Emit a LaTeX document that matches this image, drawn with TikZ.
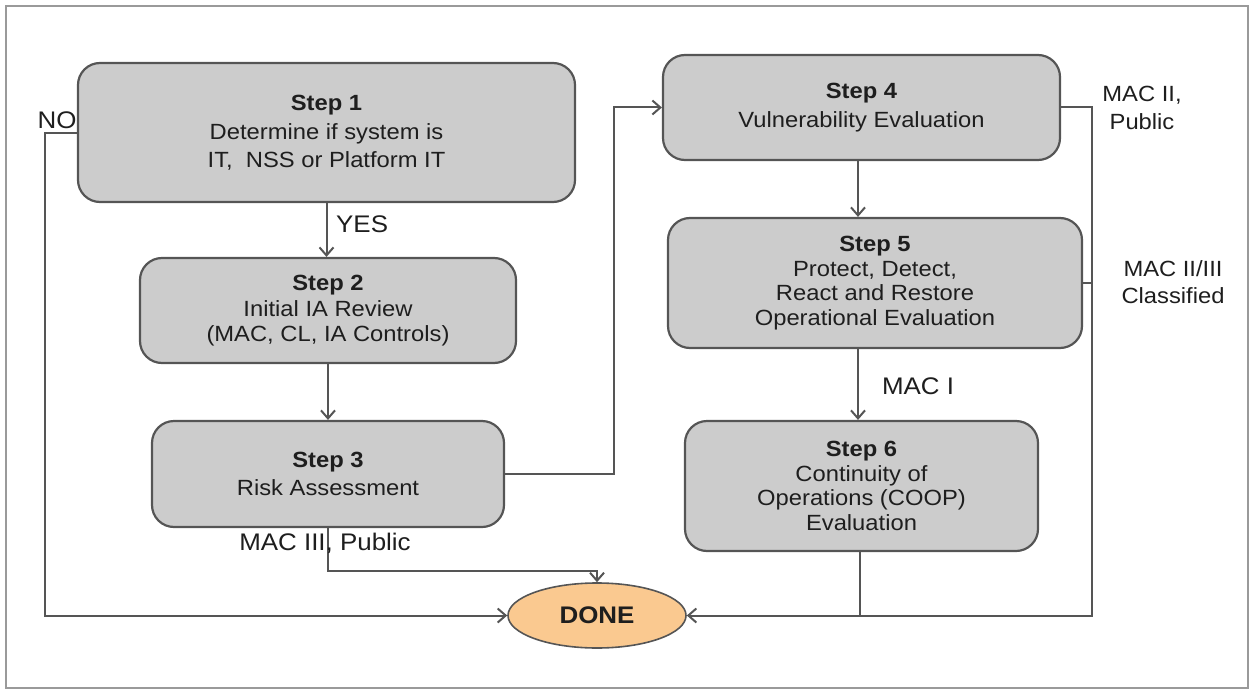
\documentclass[tikz,border=0pt]{standalone}
\usepackage{fontspec}
\setmainfont[FakeStretch=1.08]{Liberation Sans}
\usetikzlibrary{arrows.meta,shapes.geometric}
\definecolor{boxfill}{HTML}{CCCCCC}
\definecolor{boxline}{HTML}{555555}
\definecolor{txt}{HTML}{1E1E1E}
\definecolor{donefill}{HTML}{FAC990}
\definecolor{framec}{HTML}{9A9A9A}
\tikzset{
  stepbox/.style={draw=boxline, line width=2.2pt, fill=boxfill, rounded corners=22pt,
    align=center, text=txt, inner sep=0pt, font=\fontsize{22}{24.5}\selectfont},
  lbl/.style={text=txt, align=center, inner sep=0pt, font=\fontsize{24}{28}\selectfont},
  conn/.style={draw=boxline, line width=2pt},
  arr/.style={conn, -{Straight Barb[length=8pt,width=14pt,line width=2pt]}},
}
\begin{document}
\begin{tikzpicture}[x=1pt,y=-1pt]
\useasboundingbox (0,0) rectangle (1249,690);
\draw[framec, line width=1.6pt] (6,6) rectangle (1248,688);

\node[stepbox, minimum width=497pt, minimum height=139pt] (s1) at (326.5,132.5)
  {\textbf{Step 1}\\[5pt]Determine if system is\\[3.5pt]IT,\ \ NSS or Platform IT};
\node[stepbox, minimum width=376pt, minimum height=105pt] (s2) at (328,310.5)
  {\textbf{Step 2}\\[1.5pt]Initial IA Review\\[1pt](MAC, CL, IA Controls)};
\node[stepbox, minimum width=352pt, minimum height=106pt] (s3) at (328,474)
  {\textbf{Step 3}\\[3.5pt]Risk Assessment};
\node[stepbox, minimum width=397pt, minimum height=105pt] (s4) at (861.5,107.5)
  {\textbf{Step 4}\\[4pt]Vulnerability Evaluation};
\node[stepbox, minimum width=414pt, minimum height=130pt] (s5) at (875,283)
  {\textbf{Step 5}\\Protect, Detect,\\React and Restore\\Operational Evaluation};
\node[stepbox, minimum width=353pt, minimum height=130pt] (s6) at (861.5,486)
  {\textbf{Step 6}\\Continuity of\\Operations (COOP)\\Evaluation};
\node[ellipse, draw=boxline, line width=1.6pt, fill=donefill, minimum width=178pt,
  minimum height=65pt, inner sep=0pt, text=txt, font=\fontsize{24}{28}\selectfont\bfseries] (done) at (597,615.5) {DONE};

\coordinate (mid) at (858,0);
\coordinate (rail) at (1092,0);
\coordinate (s6x) at (860,0);

% left column
\draw[arr] (s1.south) -- (s1.south |- s2.north);
\draw[arr] (s2.south) -- (s2.south |- s3.north);
\draw[arr] (s3.east) -- ++(109,0) |- (s4.west);
\draw[arr] (s3.south) -- ++(0,43) -| (done.north);
\draw[arr] (s1.west) -- ++(-32,0) |- (done.west);

% right column
\draw[arr] (s4.south -| mid) -- (s5.north -| mid);
\draw[arr] (s5.south -| mid) -- (s6.north -| mid);
\draw[arr] (s4.east) -- (s4.east -| rail) |- (done.east);
\draw[conn] (s5.east) -- (s5.east -| rail);
\draw[conn] (s6.south -| s6x) -- (done.east -| s6x);

% labels
\node[lbl, anchor=west] (yes) at (336,224) {YES};
\node[lbl] (no) at (57,120) {NO};
\node[lbl] (mac3) at (325,543) {MAC III, Public};
\node[lbl, font=\fontsize{22}{28}\selectfont] (mac2) at (1142,108) {MAC II,\\Public};
\node[lbl, font=\fontsize{22}{27}\selectfont] (mac23) at (1173,282) {MAC II/III\\Classified};
\node[lbl] (mac1) at (918,386) {MAC I};
\end{tikzpicture}
\end{document}
